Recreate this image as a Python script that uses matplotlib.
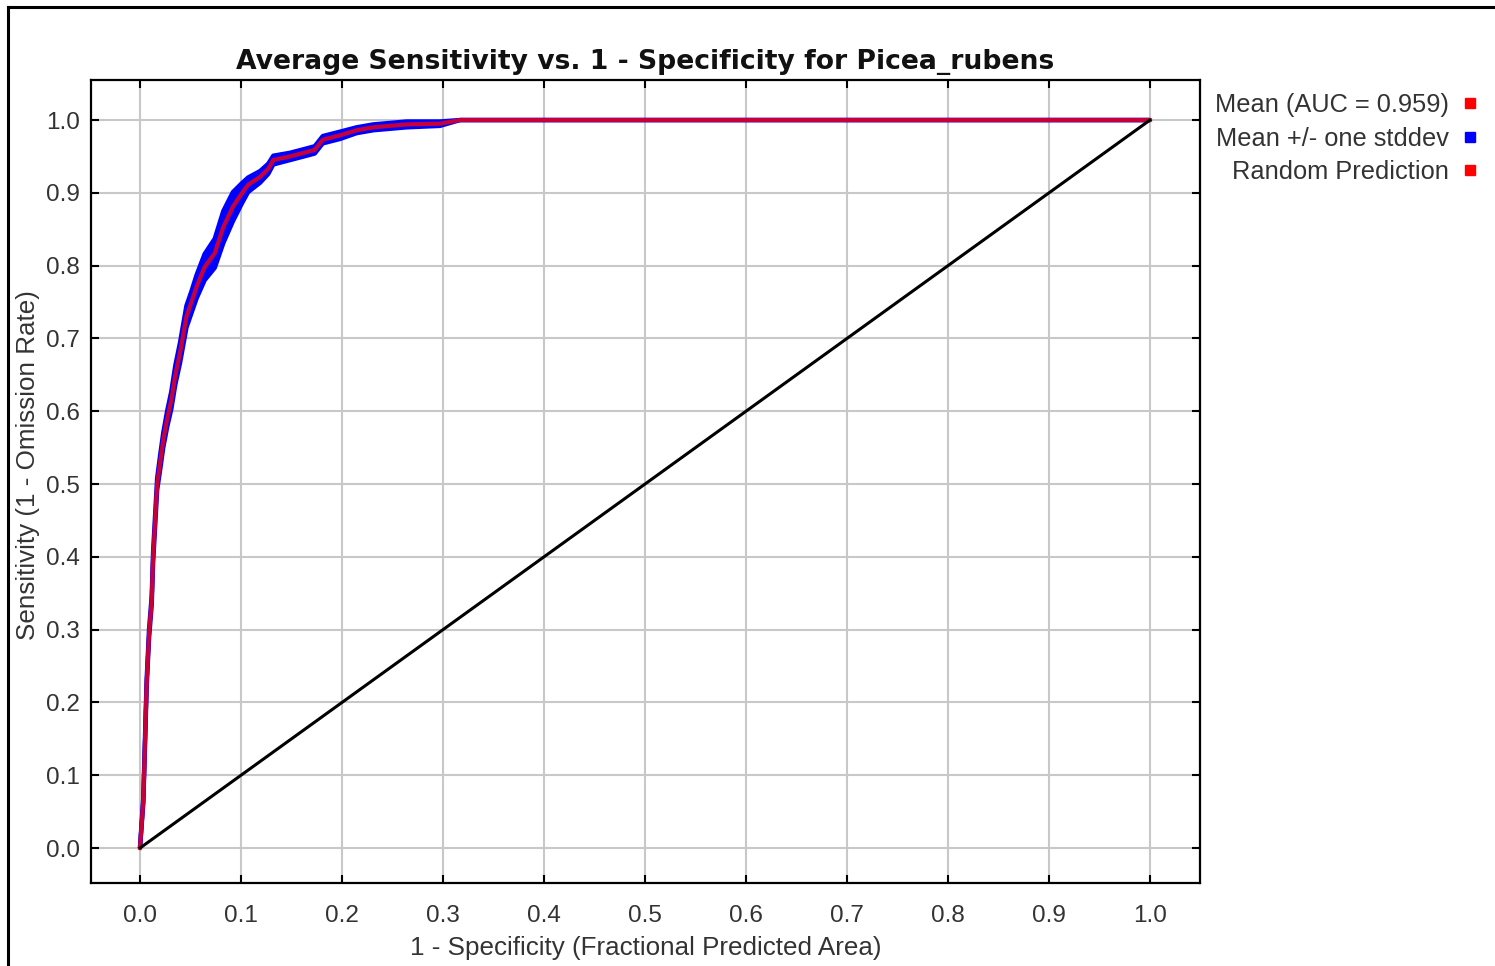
import matplotlib
matplotlib.use("Agg")
import matplotlib.pyplot as plt
from matplotlib.lines import Line2D
import numpy as np

# ---- data ----
fpr = [0.0, 0.0033, 0.005, 0.0066, 0.009, 0.0116, 0.013, 0.015, 0.017, 0.020,
       0.023, 0.027, 0.031, 0.035, 0.0396, 0.046, 0.051, 0.056, 0.064, 0.074,
       0.0825, 0.092, 0.1007, 0.107, 0.119, 0.127, 0.132, 0.1485, 0.165, 0.173,
       0.181, 0.198, 0.2145, 0.231, 0.264, 0.297, 0.317, 1.0]
tpr = [0.0, 0.066, 0.148, 0.226, 0.295, 0.34, 0.40, 0.45, 0.50, 0.53,
       0.56, 0.59, 0.615, 0.65, 0.68, 0.73, 0.75, 0.771, 0.798, 0.817,
       0.853, 0.881, 0.899, 0.911, 0.922, 0.933, 0.945, 0.95, 0.956, 0.959,
       0.973, 0.979, 0.986, 0.99, 0.994, 0.995, 1.0, 1.0]
sd = [0.0, 0.004, 0.005, 0.005, 0.006, 0.006, 0.007, 0.008, 0.008, 0.010,
      0.010, 0.011, 0.012, 0.013, 0.014, 0.015, 0.015, 0.016, 0.018, 0.020,
      0.022, 0.020, 0.014, 0.010, 0.008, 0.007, 0.006, 0.005, 0.005, 0.005,
      0.005, 0.005, 0.004, 0.004, 0.004, 0.003, 0.0, 0.0]
random_x = [0.0, 1.0]
random_y = [0.0, 1.0]
ticks = [0.0, 0.1, 0.2, 0.3, 0.4, 0.5, 0.6, 0.7, 0.8, 0.9, 1.0]
tick_labels = [f"{t:.1f}" for t in ticks]
legend_labels = ["Mean (AUC = 0.959)", "Mean +/- one stddev", "Random Prediction"]
title = "Average Sensitivity vs. 1 - Specificity for Picea_rubens"
xlabel = "1 - Specificity (Fractional Predicted Area)"
ylabel = "Sensitivity (1 - Omission Rate)"

W, H = 1495, 966
fig = plt.figure(figsize=(W / 100, H / 100), dpi=100)
ax = fig.add_axes([91 / W, 1 - 883 / H, (1200 - 91) / W, (883 - 80) / H])

font = "Liberation Sans"
fs = 17.5
lfs = 18.7

x = np.array(fpr)
y = np.array(tpr)
s = np.array(sd)
lo = np.clip(y - s, 0, 1)
hi = np.clip(y + s, 0, 1)

ax.fill_between(x, lo, hi, color="#0000ff", linewidth=0, zorder=2)
ax.plot(x, lo, color="#0000ff", lw=3.2, solid_capstyle="butt", zorder=2)
ax.plot(x, hi, color="#0000ff", lw=3.2, solid_capstyle="butt", zorder=2)
ax.plot(x, y, color="#ff0000", lw=3.0, alpha=0.78, zorder=3)
ax.plot(random_x, random_y, color="black", lw=2.2, zorder=3)

ax.set_xlim(-0.0485, 1.0495)
ax.set_ylim(-0.048, 1.055)
ax.set_xticks(ticks)
ax.set_yticks(ticks)
ax.set_xticklabels(tick_labels, fontfamily=font, fontsize=fs, color="#333333")
ax.set_yticklabels(tick_labels, fontfamily=font, fontsize=fs, color="#333333")
ax.tick_params(axis="both", which="both", direction="in", length=6, width=1.5,
               top=True, right=True, color="black")
ax.tick_params(axis="x", pad=15.5)
ax.tick_params(axis="y", pad=8)
ax.grid(True, color="#c8c8c8", lw=1.5, zorder=0)
ax.set_axisbelow(True)
for sp in ax.spines.values():
    sp.set_linewidth(1.6)
    sp.set_color("black")

ax.set_title(title, fontfamily="DejaVu Sans", fontweight="bold", fontsize=19.2,
             pad=8, color="#111111")
ax.set_xlabel(xlabel, fontfamily=font, fontsize=lfs, color="#333333", va="center")
ax.set_ylabel(ylabel, fontfamily=font, fontsize=lfs, color="#333333", va="center")
ax.xaxis.set_label_coords((645.5 - 91) / (1200 - 91), (883 - 948) / (883 - 80))
ax.yaxis.set_label_coords((28 - 91) / (1200 - 91), (883 - 465) / (883 - 80))

handles = [Line2D([], [], marker="s", linestyle="none", markersize=7.5,
                  markerfacecolor=c, markeredgecolor=c)
           for c in ["#ff0000", "#0000ff", "#ff0000"]]
leg = fig.legend(handles, legend_labels, loc="upper right",
                 bbox_to_anchor=(1476 / W, 1 - 93 / H), bbox_transform=fig.transFigure,
                 frameon=False, markerfirst=False, borderpad=0, borderaxespad=0,
                 handlelength=0.5, handletextpad=0.55, labelspacing=0.38,
                 prop={"family": font, "size": 18.3})
for t in leg.get_texts():
    t.set_color("#333333")

# outer frame lines (left and top) of the reference screenshot
fig.add_artist(Line2D([8 / W, 8 / W], [0, 1 - 7 / H], color="black", lw=2.2,
                      transform=fig.transFigure))
fig.add_artist(Line2D([8 / W, 1], [1 - 7 / H, 1 - 7 / H], color="black", lw=2.2,
                      transform=fig.transFigure))

fig.savefig("out.png", dpi=100)
